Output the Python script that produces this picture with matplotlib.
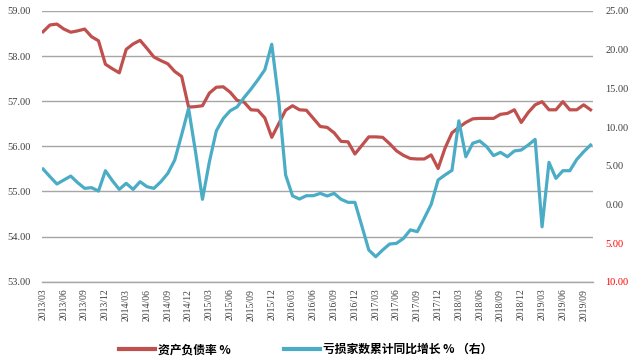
import numpy as np
import pandas as pd
import matplotlib
matplotlib.use('Agg')
import matplotlib.pyplot as plt
from matplotlib.lines import Line2D
from matplotlib.ticker import FuncFormatter

# monthly categories 2013/03 .. 2019/10
months = list(pd.period_range('2013-03', '2019-10', freq='M').strftime('%Y/%m'))

# 资产负债率 % (left axis)
debt_ratio = [58.54, 58.69, 58.71, 58.60, 58.53, 58.56, 58.60, 58.43, 58.34, 57.82,
              57.72, 57.63, 58.15, 58.27, 58.35, 58.17, 57.98, 57.90, 57.83, 57.66,
              57.55, 56.87, 56.88, 56.90, 57.18, 57.31, 57.32, 57.20, 57.02, 56.98,
              56.81, 56.80, 56.63, 56.20, 56.50, 56.80, 56.90, 56.81, 56.80, 56.62,
              56.44, 56.42, 56.30, 56.11, 56.10, 55.83, 56.02, 56.21, 56.21, 56.20,
              56.06, 55.90, 55.80, 55.73, 55.72, 55.72, 55.81, 55.51, 55.96, 56.30,
              56.42, 56.53, 56.61, 56.62, 56.62, 56.62, 56.71, 56.73, 56.81, 56.53,
              56.75, 56.92, 56.99, 56.81, 56.81, 56.99, 56.81, 56.81, 56.92, 56.81]

# 亏损家数累计同比增长 % (right axis)
loss_growth = [4.57, 3.58, 2.63, 3.15, 3.66, 2.80, 2.07, 2.16, 1.72, 4.35,
               3.06, 1.94, 2.72, 1.94, 2.93, 2.28, 2.07, 2.93, 4.00, 5.73,
               9.00, 12.40, 6.80, 0.65, 5.50, 9.50, 11.10, 12.10, 12.60, 13.80,
               14.90, 16.10, 17.40, 20.70, 13.50, 3.80, 1.10, 0.69, 1.12, 1.12,
               1.42, 1.08, 1.42, 0.65, 0.26, 0.26, -2.80, -5.90, -6.77, -5.90,
               -5.13, -5.04, -4.40, -3.30, -3.53, -1.80, 0.00, 3.15, 3.80, 4.40,
               10.80, 6.16, 7.90, 8.20, 7.46, 6.30, 6.72, 6.16, 6.90, 7.03,
               7.67, 8.40, -2.90, 5.43, 3.36, 4.35, 4.35, 5.80, 6.80, 7.67]

label_left = '资产负债率 %'
label_right = '亏损家数累计同比增长 % （右）'

red = '#C0504D'
blue = '#4BACC6'
grid_c = '#A6A6A6'
num_font = 'Liberation Serif'
cjk = ['Noto Sans CJK SC', 'DejaVu Sans']

fig = plt.figure(figsize=(6.4, 3.62), dpi=100)
ax = fig.add_axes([42/640, 1-281.7/362, 551/640, (281.7-11)/362])
x = np.arange(len(months))

ax.plot(x, debt_ratio, color=red, lw=2.3, solid_joinstyle='round')
ax.set_ylim(53, 59)
ax.set_yticks(np.arange(53, 59.5, 1))
ax.set_xlim(-0.15, len(months) - 0.65)
ax.yaxis.grid(True, color=grid_c, lw=1)
ax.set_axisbelow(True)
for s in ['left', 'right', 'top']:
    ax.spines[s].set_visible(False)
ax.spines['bottom'].set_color(grid_c)
ax.spines['bottom'].set_linewidth(1)

ax.set_xticks(x[::3])
ax.set_xticklabels(months[::3], rotation=90, fontsize=7, family=num_font, color='#404040')
ax.tick_params(axis='x', length=0, pad=5)
ax.tick_params(axis='y', length=0, pad=8)
ax.yaxis.set_major_formatter(FuncFormatter(lambda v, p: '%.2f' % v))
for t in ax.get_yticklabels():
    t.set_fontsize(7.5)
    t.set_family(num_font)
    t.set_color('#404040')

ax2 = ax.twinx()
ax2.plot(x, loss_growth, color=blue, lw=2.3, solid_joinstyle='round')
ax2.set_ylim(-10, 25)
ax2.set_yticks(np.arange(-10, 26, 5))
ax2.yaxis.set_major_formatter(FuncFormatter(lambda v, p: '%.2f' % abs(v)))
ax2.tick_params(axis='y', length=0, pad=9)
for s in ax2.spines.values():
    s.set_visible(False)
for t, v in zip(ax2.get_yticklabels(), ax2.get_yticks()):
    t.set_fontsize(7.5)
    t.set_family(num_font)
    t.set_color('#FF0000' if v < 0 else '#404040')

handles = [Line2D([], [], color=red, lw=3), Line2D([], [], color=blue, lw=3)]
fig.legend(handles, [label_left, label_right], loc='center', bbox_to_anchor=(0.478, 0.034),
           ncol=2, frameon=False, prop={'family': cjk, 'size': 8.5, 'weight': 'bold'},
           handlelength=3, columnspacing=4.5, handletextpad=0.3)

fig.savefig('out.png', dpi=100)
